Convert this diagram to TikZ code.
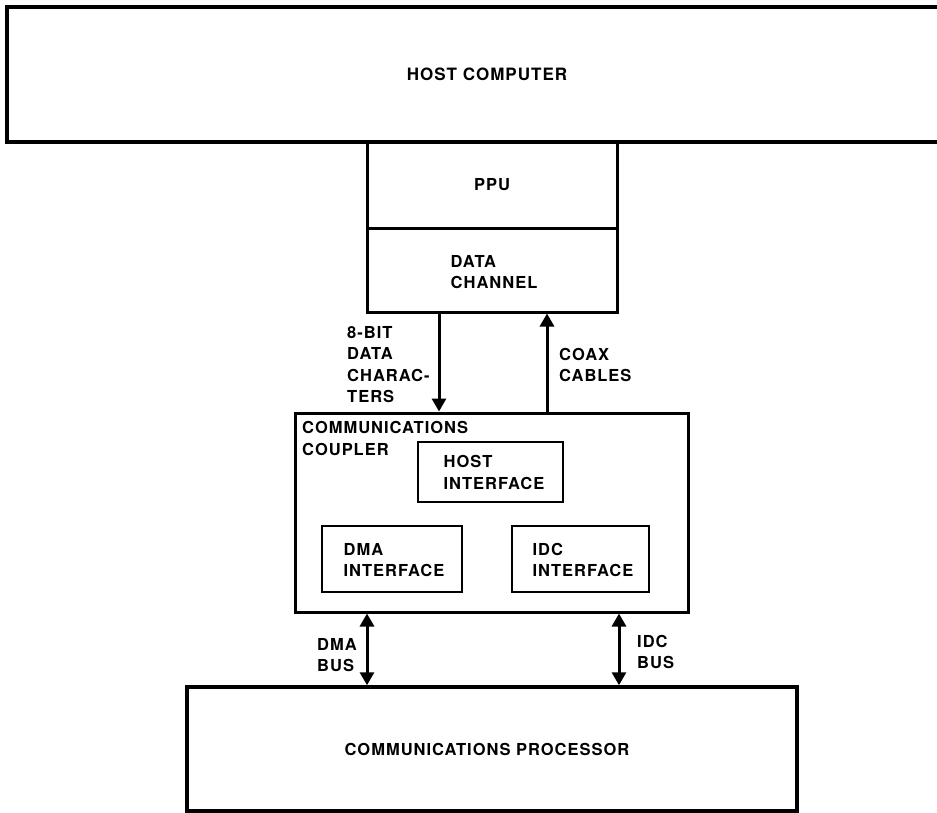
\documentclass[tikz,border=0pt]{standalone}
\usepackage{fontspec}
\setmainfont{TeX Gyre Heros}[LetterSpace=6]
\usetikzlibrary{arrows.meta,calc}
\begin{document}
\begin{tikzpicture}[x=1pt,y=-1pt,
  box/.style={draw,line width=3pt,inner sep=0pt},
  txt/.style={font=\bfseries\fontsize{16.5}{21.5}\selectfont,align=left,inner sep=0pt},
  arr/.style={line width=3pt,-{Triangle[width=14pt,length=13pt]}},
  darr/.style={line width=3pt,{Triangle[width=14pt,length=13pt]}-{Triangle[width=14pt,length=13pt]}}]
\useasboundingbox (0,0) rectangle (937,812);
\fill[white] (0,0) rectangle (937,812);

% host computer (open to the right)
\node[txt,font=\bfseries\fontsize{17}{20}\selectfont] (host) at (487,74) {HOST COMPUTER};
\coordinate (hostTR) at (945,7);
\coordinate (hostBR) at (945,142);
\draw[line width=3.5pt] (hostTR) -- (7,7) -- (7,142) -- (hostBR);

% PPU and data channel
\node[box,txt,minimum width=250pt,minimum height=86pt] (ppu) at (492,185) {PPU};
\node[box,minimum width=250pt,minimum height=84pt] (dc) at (492,270) {};
\node[txt] (dctext) at (494,272) {DATA\\CHANNEL};

% coupler
\node[box,minimum width=393pt,minimum height=199pt] (coupler) at (491.5,512.5) {};
\node[txt,anchor=north west] (cclabel) at (302,421.5) {COMMUNICATIONS\\COUPLER};
\node[box,line width=2.8pt,minimum width=145pt,minimum height=60pt] (hif) at (490.5,472) {};
\node[txt] (hiftext) at (494,472.5) {HOST\\INTERFACE};
\node[box,line width=2.8pt,minimum width=140pt,minimum height=66pt] (dmaif) at (392,559) {};
\node[txt] (dmaiftext) at (394,560) {DMA\\INTERFACE};
\node[box,line width=2.8pt,minimum width=137pt,minimum height=66pt] (idcif) at (580.5,559) {};
\node[txt] (idciftext) at (583,560) {IDC\\INTERFACE};

% communications processor
\node[box,line width=3.5pt,minimum width=610pt,minimum height=124pt] (proc) at (492,749) {};
\node[txt] (proctext) at (487,749) {COMMUNICATIONS PROCESSOR};

% connectors
\coordinate (xdown) at (439,0);
\coordinate (xup) at (547,0);
\coordinate (xdma) at (367,0);
\coordinate (xidc) at (619,0);
\draw[arr] (dc.south -| xdown) -- (coupler.north -| xdown);
\draw[arr] (coupler.north -| xup) -- (dc.south -| xup);
\draw[darr] (coupler.south -| xdma) -- (proc.north -| xdma);
\draw[darr] (coupler.south -| xidc) -- (proc.north -| xidc);

% connector labels
\node[txt,anchor=west] (lbl8bit) at (347,364.5) {8-BIT\\DATA\\CHARAC-\\TERS};
\node[txt,anchor=west] (lblcoax) at (559,365) {COAX\\CABLES};
\node[txt,anchor=west] (lbldma) at (317,655) {DMA\\BUS};
\node[txt,anchor=west] (lblidc) at (637,652) {IDC\\BUS};
\end{tikzpicture}
\end{document}
